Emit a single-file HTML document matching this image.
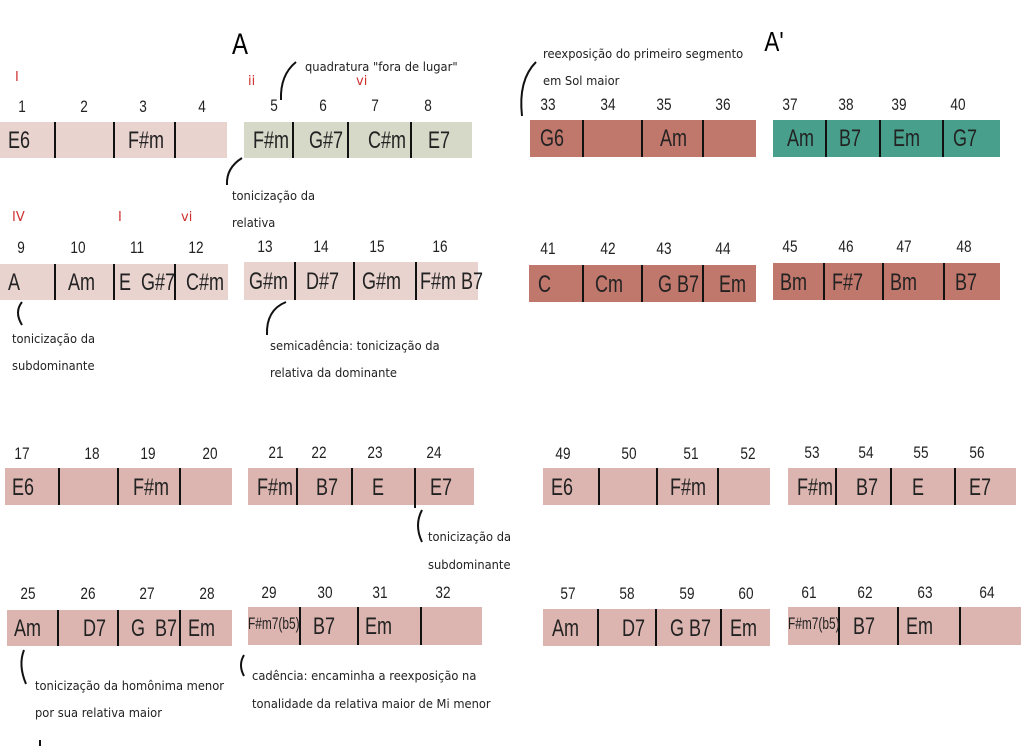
<!DOCTYPE html>
<html><head><meta charset="utf-8"><style>
body{margin:0;width:1024px;height:746px;background:#fff;position:relative;overflow:hidden;font-family:"Liberation Sans Narrow","Liberation Sans",sans-serif;}
.b{position:absolute;}
.l{position:absolute;width:2px;background:#111;}
.c{position:absolute;font-size:24px;color:#222;white-space:nowrap;transform:scaleX(.75);transform-origin:left center;margin-top:2px;}
.n{position:absolute;font-size:17px;color:#222;transform:translateX(-50%) scaleX(.8);}
.r{position:absolute;font-size:13px;color:#d03030;font-family:"DejaVu Sans",sans-serif;}
.t{position:absolute;font-size:12.5px;color:#222;font-family:"DejaVu Sans","Liberation Sans",sans-serif;white-space:nowrap;transform:scaleX(.92);transform-origin:left;}
.p1{background:#e8d3cf}.g{background:#d6d8c8}.rd{background:#c0776c}.tl{background:#48a08c}.p2{background:#dcb5b0}
</style></head><body>
<svg class="b" style="left:0;top:0" width="1024" height="746"><g fill="none" stroke="#111" stroke-width="2">
<path d="M296 62 Q280 75 281 100"/><path d="M242 158 Q226 168 227 185"/><path d="M536 62 Q518 80 522 116"/>
<path d="M22 302 Q14 312 22 325"/><path d="M286 302 Q266 310 267 335"/><path d="M422 510 Q414 525 422 542"/>
<path d="M24 650 Q18 665 26 684"/><path d="M244 655 Q238 665 244 676"/><path d="M40 740 L40 746"/></g></svg>
<div class="b" style="left:230px;top:28px;font-size:30px;transform:scaleX(.8)">A</div>
<div class="b" style="left:762px;top:26px;font-size:28px;transform:scaleX(.8)">A'</div>
<div class="r" style="left:15px;top:70px">I</div><div class="r" style="left:248px;top:74px">ii</div><div class="r" style="left:356px;top:74px">vi</div>
<div class="r" style="left:12px;top:210px">IV</div><div class="r" style="left:118px;top:210px">I</div><div class="r" style="left:181px;top:210px">vi</div>
<div class="t" style="left:305px;top:59px">quadratura "fora de lugar"</div>
<div class="t" style="left:232px;top:188px">tonicização da</div><div class="t" style="left:232px;top:215px">relativa</div>
<div class="t" style="left:12px;top:331px">tonicização da</div><div class="t" style="left:12px;top:358px">subdominante</div>
<div class="t" style="left:270px;top:338px">semicadência: tonicização da</div><div class="t" style="left:270px;top:365px">relativa da dominante</div>
<div class="t" style="left:543px;top:46px">reexposição do primeiro segmento</div><div class="t" style="left:543px;top:73px">em Sol maior</div>
<div class="t" style="left:428px;top:529px">tonicização da</div><div class="t" style="left:428px;top:557px">subdominante</div>
<div class="t" style="left:35px;top:678px">tonicização da homônima menor</div><div class="t" style="left:35px;top:705px">por sua relativa maior</div>
<div class="t" style="left:252px;top:668px">cadência: encaminha a reexposição na</div><div class="t" style="left:252px;top:696px">tonalidade da relativa maior de Mi menor</div>

<!-- row1 -->
<div class="b p1" style="left:0;top:122px;width:227px;height:36px"></div>
<div class="l" style="left:54px;top:122px;height:36px"></div><div class="l" style="left:113px;top:122px;height:36px"></div><div class="l" style="left:174px;top:122px;height:36px"></div>
<div class="c" style="left:8px;top:125px">E6</div><div class="c" style="left:128px;top:125px">F#m</div>
<div class="n" style="left:22px;top:97px">1</div><div class="n" style="left:84px;top:97px">2</div><div class="n" style="left:143px;top:97px">3</div><div class="n" style="left:202px;top:97px">4</div>
<div class="b g" style="left:244px;top:122px;width:228px;height:36px"></div>
<div class="l" style="left:292px;top:122px;height:36px"></div><div class="l" style="left:347px;top:122px;height:36px"></div><div class="l" style="left:410px;top:122px;height:36px"></div>
<div class="c" style="left:253px;top:125px">F#m</div><div class="c" style="left:309px;top:125px">G#7</div><div class="c" style="left:368px;top:125px">C#m</div><div class="c" style="left:428px;top:125px">E7</div>
<div class="n" style="left:274px;top:96px">5</div><div class="n" style="left:323px;top:96px">6</div><div class="n" style="left:375px;top:96px">7</div><div class="n" style="left:428px;top:96px">8</div>
<!-- row2 -->
<div class="b p1" style="left:0;top:264px;width:228px;height:36px"></div>
<div class="l" style="left:54px;top:264px;height:36px"></div><div class="l" style="left:113px;top:264px;height:36px"></div><div class="l" style="left:174px;top:264px;height:36px"></div>
<div class="c" style="left:8px;top:267px">A</div><div class="c" style="left:68px;top:267px">Am</div><div class="c" style="left:119px;top:267px">E&nbsp; G#7</div><div class="c" style="left:186px;top:267px">C#m</div>
<div class="n" style="left:21px;top:238px">9</div><div class="n" style="left:78px;top:238px">10</div><div class="n" style="left:137px;top:238px">11</div><div class="n" style="left:196px;top:238px">12</div>
<div class="b p1" style="left:244px;top:262px;width:234px;height:38px"></div>
<div class="l" style="left:294px;top:262px;height:38px"></div><div class="l" style="left:353px;top:262px;height:38px"></div><div class="l" style="left:415px;top:262px;height:38px"></div>
<div class="c" style="left:249px;top:266px">G#m</div><div class="c" style="left:306px;top:266px">D#7</div><div class="c" style="left:362px;top:266px">G#m</div><div class="c" style="left:420px;top:266px">F#m B7</div>
<div class="n" style="left:265px;top:237px">13</div><div class="n" style="left:321px;top:237px">14</div><div class="n" style="left:377px;top:237px">15</div><div class="n" style="left:440px;top:237px">16</div>
<!-- right top -->
<div class="b rd" style="left:530px;top:120px;width:226px;height:37px"></div>
<div class="l" style="left:582px;top:120px;height:37px"></div><div class="l" style="left:641px;top:120px;height:37px"></div><div class="l" style="left:702px;top:120px;height:37px"></div>
<div class="c" style="left:540px;top:123px">G6</div><div class="c" style="left:660px;top:123px">Am</div>
<div class="n" style="left:548px;top:95px">33</div><div class="n" style="left:608px;top:95px">34</div><div class="n" style="left:664px;top:95px">35</div><div class="n" style="left:723px;top:95px">36</div>
<div class="b tl" style="left:773px;top:120px;width:227px;height:37px"></div>
<div class="l" style="left:825px;top:120px;height:37px"></div><div class="l" style="left:879px;top:120px;height:37px"></div><div class="l" style="left:942px;top:120px;height:37px"></div>
<div class="c" style="left:787px;top:123px">Am</div><div class="c" style="left:839px;top:123px">B7</div><div class="c" style="left:893px;top:123px">Em</div><div class="c" style="left:953px;top:123px">G7</div>
<div class="n" style="left:790px;top:95px">37</div><div class="n" style="left:846px;top:95px">38</div><div class="n" style="left:899px;top:95px">39</div><div class="n" style="left:958px;top:95px">40</div>
<div class="b rd" style="left:529px;top:265px;width:227px;height:37px"></div>
<div class="l" style="left:582px;top:265px;height:37px"></div><div class="l" style="left:641px;top:265px;height:37px"></div><div class="l" style="left:702px;top:265px;height:37px"></div>
<div class="c" style="left:538px;top:269px">C</div><div class="c" style="left:595px;top:269px">Cm</div><div class="c" style="left:658px;top:269px">G&nbsp;B7</div><div class="c" style="left:719px;top:269px">Em</div>
<div class="n" style="left:548px;top:239px">41</div><div class="n" style="left:608px;top:239px">42</div><div class="n" style="left:664px;top:239px">43</div><div class="n" style="left:723px;top:239px">44</div>
<div class="b rd" style="left:773px;top:263px;width:227px;height:37px"></div>
<div class="l" style="left:823px;top:263px;height:37px"></div><div class="l" style="left:882px;top:263px;height:37px"></div><div class="l" style="left:943px;top:263px;height:37px"></div>
<div class="c" style="left:780px;top:267px">Bm</div><div class="c" style="left:832px;top:267px">F#7</div><div class="c" style="left:890px;top:267px">Bm</div><div class="c" style="left:955px;top:267px">B7</div>
<div class="n" style="left:790px;top:237px">45</div><div class="n" style="left:846px;top:237px">46</div><div class="n" style="left:904px;top:237px">47</div><div class="n" style="left:964px;top:237px">48</div>
<!-- row3 -->
<div class="b p2" style="left:5px;top:468px;width:227px;height:37px"></div>
<div class="l" style="left:58px;top:468px;height:37px"></div><div class="l" style="left:117px;top:468px;height:37px"></div><div class="l" style="left:179px;top:468px;height:37px"></div>
<div class="c" style="left:12px;top:472px">E6</div><div class="c" style="left:133px;top:472px">F#m</div>
<div class="n" style="left:22px;top:444px">17</div><div class="n" style="left:92px;top:444px">18</div><div class="n" style="left:148px;top:444px">19</div><div class="n" style="left:210px;top:444px">20</div>
<div class="b p2" style="left:248px;top:468px;width:226px;height:37px"></div>
<div class="l" style="left:296px;top:468px;height:37px"></div><div class="l" style="left:351px;top:468px;height:37px"></div><div class="l" style="left:414px;top:468px;height:40px"></div>
<div class="c" style="left:257px;top:472px">F#m</div><div class="c" style="left:316px;top:472px">B7</div><div class="c" style="left:372px;top:472px">E</div><div class="c" style="left:430px;top:472px">E7</div>
<div class="n" style="left:276px;top:443px">21</div><div class="n" style="left:319px;top:443px">22</div><div class="n" style="left:375px;top:443px">23</div><div class="n" style="left:434px;top:443px">24</div>
<div class="b p2" style="left:543px;top:468px;width:227px;height:37px"></div>
<div class="l" style="left:598px;top:468px;height:37px"></div><div class="l" style="left:656px;top:468px;height:37px"></div><div class="l" style="left:717px;top:468px;height:37px"></div>
<div class="c" style="left:551px;top:472px">E6</div><div class="c" style="left:670px;top:472px">F#m</div>
<div class="n" style="left:563px;top:444px">49</div><div class="n" style="left:629px;top:444px">50</div><div class="n" style="left:691px;top:444px">51</div><div class="n" style="left:748px;top:444px">52</div>
<div class="b p2" style="left:788px;top:468px;width:228px;height:37px"></div>
<div class="l" style="left:835px;top:468px;height:37px"></div><div class="l" style="left:890px;top:468px;height:37px"></div><div class="l" style="left:954px;top:468px;height:37px"></div>
<div class="c" style="left:797px;top:472px">F#m</div><div class="c" style="left:856px;top:472px">B7</div><div class="c" style="left:912px;top:472px">E</div><div class="c" style="left:969px;top:472px">E7</div>
<div class="n" style="left:812px;top:443px">53</div><div class="n" style="left:866px;top:443px">54</div><div class="n" style="left:921px;top:443px">55</div><div class="n" style="left:977px;top:443px">56</div>
<!-- row4 -->
<div class="b p2" style="left:7px;top:610px;width:225px;height:36px"></div>
<div class="l" style="left:57px;top:610px;height:36px"></div><div class="l" style="left:117px;top:610px;height:36px"></div><div class="l" style="left:179px;top:610px;height:36px"></div>
<div class="c" style="left:14px;top:613px">Am</div><div class="c" style="left:83px;top:613px">D7</div><div class="c" style="left:131px;top:613px">G&nbsp; B7</div><div class="c" style="left:188px;top:613px">Em</div>
<div class="n" style="left:28px;top:584px">25</div><div class="n" style="left:88px;top:584px">26</div><div class="n" style="left:147px;top:584px">27</div><div class="n" style="left:207px;top:584px">28</div>
<div class="b p2" style="left:248px;top:607px;width:234px;height:38px"></div>
<div class="l" style="left:299px;top:607px;height:38px"></div><div class="l" style="left:357px;top:607px;height:38px"></div><div class="l" style="left:420px;top:607px;height:38px"></div>
<div class="c" style="left:248px;top:612px;font-size:17px;transform:scaleX(.7)">F#m7(b5)</div><div class="c" style="left:313px;top:611px">B7</div><div class="c" style="left:365px;top:611px">Em</div>
<div class="n" style="left:269px;top:583px">29</div><div class="n" style="left:325px;top:583px">30</div><div class="n" style="left:380px;top:583px">31</div><div class="n" style="left:443px;top:583px">32</div>
<div class="b p2" style="left:543px;top:609px;width:227px;height:37px"></div>
<div class="l" style="left:597px;top:609px;height:37px"></div><div class="l" style="left:655px;top:609px;height:37px"></div><div class="l" style="left:720px;top:609px;height:37px"></div>
<div class="c" style="left:552px;top:613px">Am</div><div class="c" style="left:622px;top:613px">D7</div><div class="c" style="left:670px;top:613px">G&nbsp;B7</div><div class="c" style="left:730px;top:613px">Em</div>
<div class="n" style="left:568px;top:584px">57</div><div class="n" style="left:627px;top:584px">58</div><div class="n" style="left:687px;top:584px">59</div><div class="n" style="left:746px;top:584px">60</div>
<div class="b p2" style="left:788px;top:607px;width:233px;height:38px"></div>
<div class="l" style="left:838px;top:607px;height:38px"></div><div class="l" style="left:897px;top:607px;height:38px"></div><div class="l" style="left:959px;top:607px;height:38px"></div>
<div class="c" style="left:788px;top:612px;font-size:17px;transform:scaleX(.7)">F#m7(b5)</div><div class="c" style="left:853px;top:611px">B7</div><div class="c" style="left:906px;top:611px">Em</div>
<div class="n" style="left:809px;top:583px">61</div><div class="n" style="left:865px;top:583px">62</div><div class="n" style="left:925px;top:583px">63</div><div class="n" style="left:987px;top:583px">64</div>
</body></html>
